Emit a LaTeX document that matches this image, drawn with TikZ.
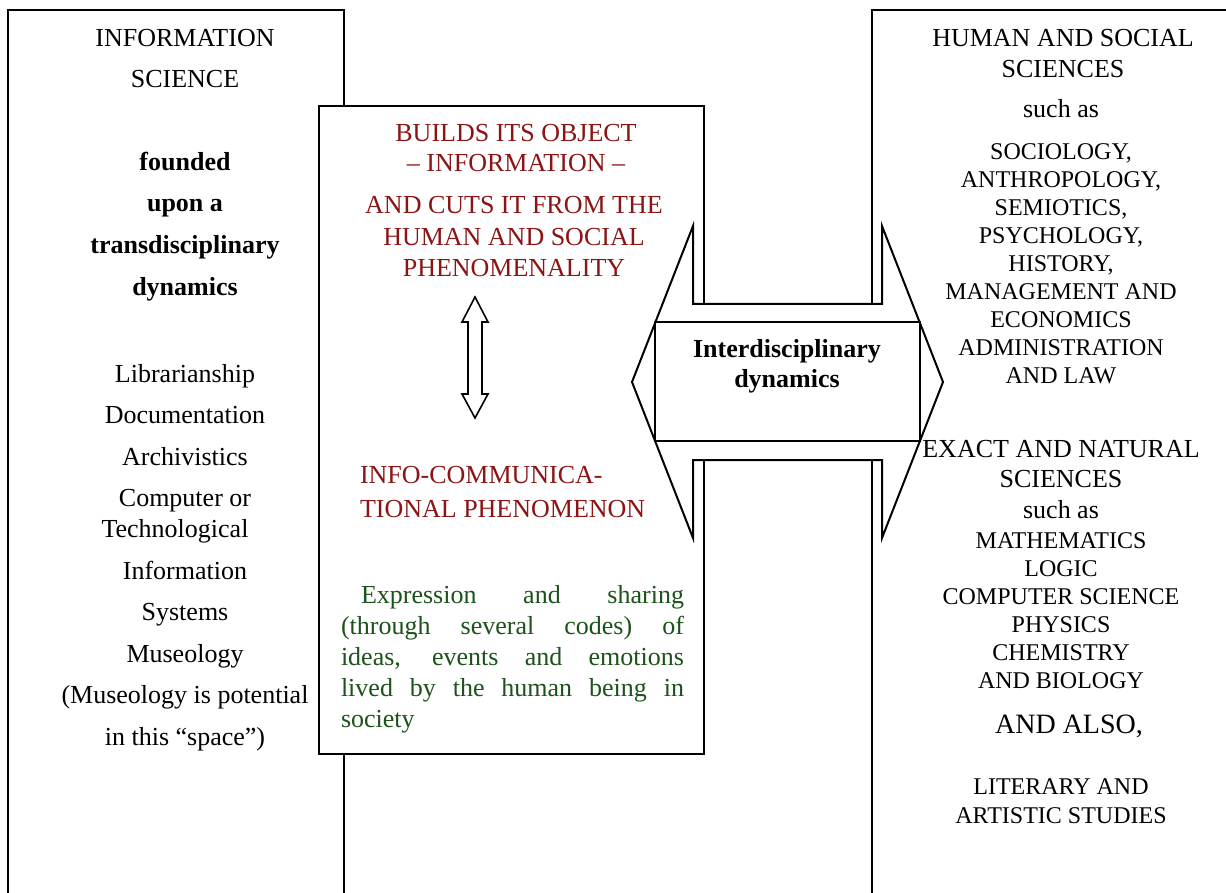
\documentclass[tikz,border=0pt]{standalone}
\usepackage{fontspec}
\setmainfont{Liberation Serif}
\usepackage{xcolor}
\definecolor{infored}{RGB}{139,20,20}
\definecolor{infogreen}{RGB}{28,82,28}

\begin{document}
\begin{tikzpicture}[x=0.5pt,y=-0.5pt,line width=1pt,
    head/.style={anchor=base,align=center,inner sep=0pt,font=\fontsize{13}{20.75}\selectfont},
    boldhead/.style={head,font=\fontsize{13}{20.75}\selectfont\bfseries},
    reds/.style={head,text=infored,font=\fontsize{13}{15.5}\selectfont},
    list/.style={head,font=\fontsize{12}{14}\selectfont},
    panel/.style={draw,fill=white,inner sep=0pt}]
    \useasboundingbox (0,0) rectangle (1226,893);
    \draw (8,893) -- (8,10) -- (344,10) -- (344,893);
    \draw (872,893) -- (872,10) -- (1226,10);
    \node[panel,minimum width=192.5pt,minimum height=324pt] (middle) at (511.5,430) {};
    \draw[fill=white] (632,382) -- (693,226) -- (693,304) -- (882,304) -- (882,226) -- (943,382)
        -- (882,538) -- (882,460) -- (693,460) -- (693,538) -- cycle;
    \node[panel,minimum width=132.5pt,minimum height=59.5pt] (interbox) at (787.5,381.5) {};
    \draw[line width=0.8pt] (475,297) -- (488,322) -- (482,322) -- (482,394) -- (488,394) -- (475,418)
        -- (462,394) -- (468,394) -- (468,322) -- (462,322) -- cycle;

    \node[head] (infosci) at (185,88) {INFORMATION\\SCIENCE};
    \node[boldhead] (founded) at (185,295) {founded\\upon a\\transdisciplinary\\dynamics};
    \node[head] (fields) at (185,745) {Librarianship\\Documentation\\Archivistics\\Computer or\\[-5.25pt]Technological\rule{10pt}{0pt}\\Information\\Systems\\Museology\\(Museology is potential\\in this “space”)};

    \node[reds,font=\fontsize{13}{15}\selectfont] (builds) at (516,172) {BUILDS ITS OBJECT\\– INFORMATION –};
    \node[reds,font=\fontsize{13}{15.75}\selectfont] (cuts) at (514,277) {AND CUTS IT FROM THE\\HUMAN AND SOCIAL\\PHENOMENALITY};
    \node[reds,anchor=base west,align=left,font=\fontsize{13}{17}\selectfont] (phenom) at (359,517) {INFO-COMMUNICA-\\TIONAL PHENOMENON};
    \node[head,anchor=base west,text width=171.5pt,align=justify,text=infogreen,font=\fontsize{13}{15.6}\selectfont] (expression) at (340,603)
        {\hspace*{10pt}Expression and sharing\linebreak (through several codes) of\linebreak ideas, events and emotions\linebreak lived by the human being in society};
    \node[boldhead,font=\fontsize{13}{15}\selectfont\bfseries] (inter) at (787,387) {Interdisciplinary\\dynamics};

    \node[head,font=\fontsize{13}{15.5}\selectfont] (human) at (1063,78) {HUMAN AND SOCIAL\\SCIENCES};
    \node[head] (such) at (1061,118) {such as};
    \node[list,font=\fontsize{12}{13.95}\selectfont] (humanlist) at (1061,383) {SOCIOLOGY,\\ANTHROPOLOGY,\\SEMIOTICS,\\PSYCHOLOGY,\\HISTORY,\\MANAGEMENT AND\\ECONOMICS\\ADMINISTRATION\\AND LAW};
    \node[head,font=\fontsize{13}{15.25}\selectfont] (exact) at (1061,518) {EXACT AND NATURAL\\SCIENCES\\such as};
    \node[list] (exactlist) at (1061,688) {MATHEMATICS\\LOGIC\\COMPUTER SCIENCE\\PHYSICS\\CHEMISTRY\\AND BIOLOGY};
    \node[head,font=\fontsize{14}{16}\selectfont] (also) at (1069,733) {AND ALSO,};
    \node[list,font=\fontsize{12}{14.5}\selectfont] (literary) at (1061,823) {LITERARY AND\\ARTISTIC STUDIES};
\end{tikzpicture}
\end{document}
